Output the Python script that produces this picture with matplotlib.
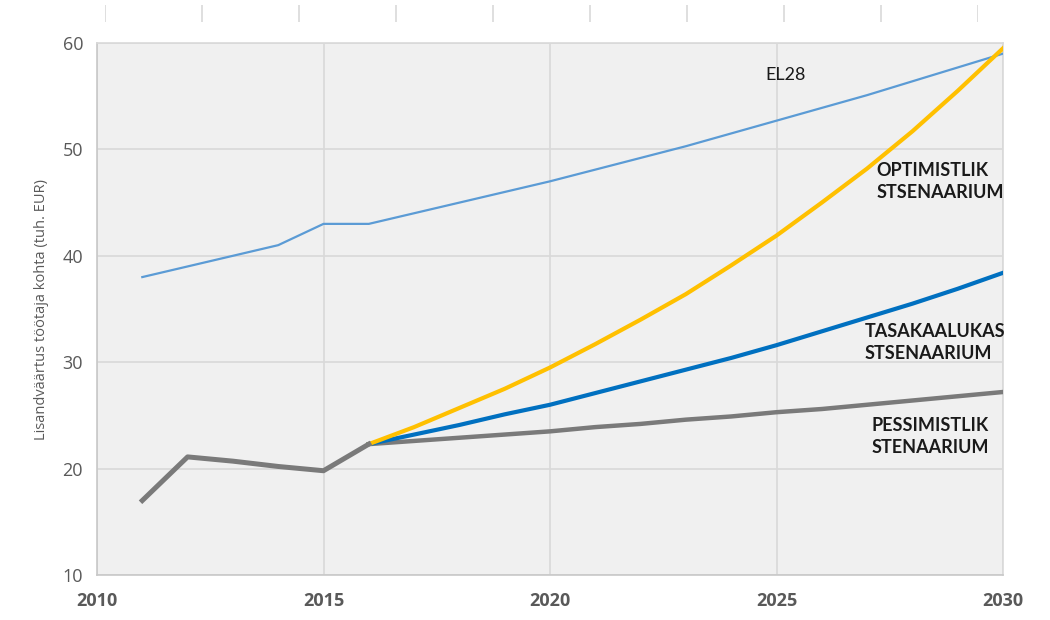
# Lisandväärtus töötaja kohta - EL28 vs stsenaariumid
import numpy as np
import matplotlib
matplotlib.use("Agg")
import matplotlib.pyplot as plt

# andmed (tuh. EUR)
years_el = [2011, 2012, 2013, 2014, 2015, 2016, 2017, 2018, 2019, 2020,
            2021, 2022, 2023, 2024, 2025, 2026, 2027, 2028, 2029, 2030]
el28 = [38.0, 39.0, 40.0, 41.0, 43.0, 43.0, 44.0, 45.0, 46.0, 47.0,
        48.1, 49.2, 50.3, 51.5, 52.7, 53.9, 55.1, 56.4, 57.7, 59.0]

years_hist = [2011, 2012, 2013, 2014, 2015, 2016]
hist = [17.0, 21.1, 20.7, 20.2, 19.8, 22.3]

years_sc = [2016, 2017, 2018, 2019, 2020, 2021, 2022, 2023,
            2024, 2025, 2026, 2027, 2028, 2029, 2030]
optimist = [22.3, 23.9, 25.7, 27.5, 29.5, 31.7, 34.0, 36.4,
            39.1, 41.9, 45.0, 48.2, 51.7, 55.5, 59.5]
tasakaal = [22.3, 23.2, 24.1, 25.1, 26.0, 27.1, 28.2, 29.3,
            30.4, 31.6, 32.9, 34.2, 35.5, 36.9, 38.4]
pessimist = [22.3, 22.6, 22.9, 23.2, 23.5, 23.9, 24.2, 24.6,
             24.9, 25.3, 25.6, 26.0, 26.4, 26.8, 27.2]

xticks = [2010, 2015, 2020, 2025, 2030]
yticks = [10, 20, 30, 40, 50, 60]

plt.rcParams['font.family'] = ['Open Sans', 'DejaVu Sans']

fig = plt.figure(figsize=(10.5, 6.2), dpi=100)
ax = fig.add_axes([97/1050, 45/620, 906/1050, 532/620])
ax.set_facecolor('#f0f0f0')

ax.plot(years_el, el28, '-', color='#5b9bd5', linewidth=1.6, zorder=3)
ax.plot(years_sc, pessimist, '-', color='#7a7a7a', linewidth=3.2, zorder=3)
ax.plot(years_sc, tasakaal, '-', color='#0070c0', linewidth=3.0, zorder=4)
ax.plot(years_sc, optimist, '-', color='#ffc000', linewidth=3.0, zorder=5)
ax.plot(years_hist, hist, '-', color='#7a7a7a', linewidth=3.6, zorder=6)

ax.set_xlim(2010, 2030)
ax.set_ylim(10, 60)
ax.set_xticks(xticks)
ax.set_yticks(yticks)
ax.grid(True, color='#d9d9d9', linewidth=1.2)
ax.set_axisbelow(True)
for s in ax.spines.values():
    s.set_color('#d9d9d9')
    s.set_linewidth(1.2)
ax.spines['left'].set_color('#c8c8c8')
ax.spines['bottom'].set_color('#c8c8c8')
ax.tick_params(length=0)
ax.tick_params(axis='y', labelsize=13, labelcolor='#595959', pad=10)
ax.tick_params(axis='x', labelsize=13, labelcolor='#595959', pad=12)
for lab in ax.get_xticklabels():
    lab.set_fontweight('bold')
ax.set_ylabel('Lisandväärtus töötaja kohta (tuh. EUR)', fontsize=10.5,
              color='#595959', labelpad=10)

lab_font = dict(fontsize=13, fontweight='bold', color='#1a1a1a',
                family=['Lato', 'DejaVu Sans'], linespacing=1.35)
ax.text(2025.2, 57.0, 'EL28', ha='center', va='center', fontsize=13,
        color='#1a1a1a', family=['Lato', 'DejaVu Sans'])
ax.text(2027.2, 47.0, 'OPTIMISTLIK\nSTSENAARIUM', ha='left', va='center', **lab_font)
ax.text(2026.95, 31.85, 'TASAKAALUKAS\nSTSENAARIUM', ha='left', va='center', **lab_font)
ax.text(2027.1, 23.0, 'PESSIMISTLIK\nSTENAARIUM', ha='left', va='center', **lab_font)

# katkised tikid üleval servas (originaalis jäänuk)
top = fig.add_axes([105/1050, (620-22)/620, (978-105)/1050, 17/620])
top.set_xlim(0, 9)
top.set_ylim(0, 1)
top.vlines(np.arange(10), 0, 1, color='#d9d9d9', linewidth=1.2)
top.axis('off')

plt.savefig('out.png', dpi=100)
